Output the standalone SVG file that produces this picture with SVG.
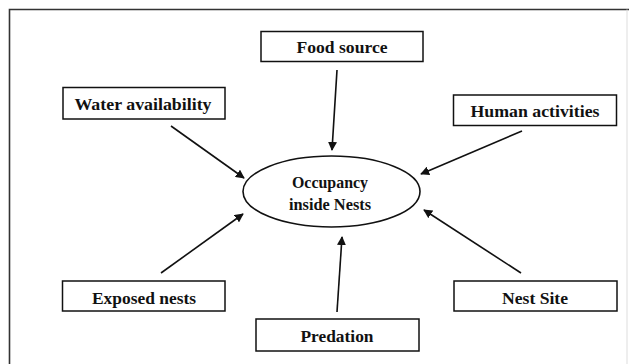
<svg xmlns="http://www.w3.org/2000/svg" width="629" height="364" viewBox="0 0 629 364">
<style>
.box{fill:#fff;stroke:#111;stroke-width:1.5}
.t{font-family:"Liberation Serif","Times New Roman",serif;font-weight:bold;font-size:16px;fill:#111;text-anchor:middle}
.c{stroke:#111;stroke-width:1.6;fill:none;marker-end:url(#ah)}
</style>
<defs>
<marker id="ah" viewBox="0 0 10 10" refX="9" refY="5" markerWidth="9" markerHeight="9" markerUnits="userSpaceOnUse" orient="auto">
<path d="M0,0 L10,5 L0,10 z" fill="#111"/>
</marker>
</defs>
<rect width="629" height="364" fill="#fff"/>
<path d="M9.5,364 L9.5,9.5 L629,9.5" fill="none" stroke="#333" stroke-width="1.6"/>
<line x1="627" y1="9.5" x2="627" y2="364" stroke="#ddd" stroke-width="1"/>
<g id="connectors">
<line class="c" x1="337" y1="70" x2="332" y2="150"/>
<line class="c" x1="171" y1="126" x2="244" y2="178"/>
<line class="c" x1="522" y1="131" x2="421" y2="174"/>
<line class="c" x1="161" y1="273" x2="243" y2="214"/>
<line class="c" x1="337" y1="312" x2="342" y2="237"/>
<line class="c" x1="521" y1="273" x2="424" y2="210"/>
</g>
<g id="food"><rect class="box" x="261" y="31.5" width="162" height="30"/><text class="t" x="342" y="53" textLength="91" lengthAdjust="spacingAndGlyphs">Food source</text></g>
<g id="water"><rect class="box" x="63" y="87.5" width="162" height="31.5"/><text class="t" x="143" y="110" textLength="137" lengthAdjust="spacingAndGlyphs">Water availability</text></g>
<g id="human"><rect class="box" x="453.5" y="95" width="163" height="30.5"/><text class="t" x="535" y="117" textLength="129" lengthAdjust="spacingAndGlyphs">Human activities</text></g>
<g id="occupancy"><ellipse cx="331.5" cy="191.5" rx="88.5" ry="35.5" fill="#fff" stroke="#111" stroke-width="1.6"/><text class="t" x="330" y="187.5" textLength="76" lengthAdjust="spacingAndGlyphs">Occupancy</text><text class="t" x="330" y="210" textLength="82" lengthAdjust="spacingAndGlyphs">inside Nests</text></g>
<g id="exposed"><rect class="box" x="62.5" y="281" width="162.5" height="30"/><text class="t" x="144" y="304" textLength="104" lengthAdjust="spacingAndGlyphs">Exposed nests</text></g>
<g id="nestsite"><rect class="box" x="454" y="281" width="163" height="30"/><text class="t" x="535" y="304" textLength="66" lengthAdjust="spacingAndGlyphs">Nest Site</text></g>
<g id="predation"><rect class="box" x="256" y="319" width="163" height="32"/><text class="t" x="337" y="342" textLength="73" lengthAdjust="spacingAndGlyphs">Predation</text></g>
</svg>
